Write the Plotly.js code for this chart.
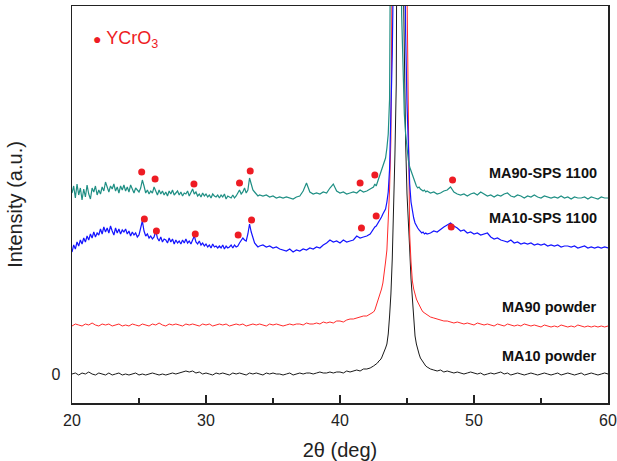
<!DOCTYPE html>
<html>
<head>
<meta charset="utf-8">
<script src="https://cdn.plot.ly/plotly-3.0.1.min.js"></script>
<style>html,body{margin:0;padding:0;background:#fff;}#chart{width:617px;height:461px;}</style>
</head>
<body>
<div id="chart"></div>
<script>
// 2-theta grid for the powder patterns (deg)
var twoTheta = [
20.00,20.25,20.50,20.75,21.00,21.25,21.50,21.75,22.00,22.25,22.50,22.75,23.00,23.25,23.50,23.75,
24.00,24.25,24.50,24.75,25.00,25.25,25.50,25.75,26.00,26.25,26.50,26.75,27.00,27.25,27.50,27.75,
28.00,28.25,28.50,28.75,29.00,29.25,29.50,29.75,30.00,30.25,30.50,30.75,31.00,31.25,31.50,31.75,
32.00,32.25,32.50,32.75,33.00,33.25,33.50,33.75,34.00,34.25,34.50,34.75,35.00,35.25,35.50,35.75,
36.00,36.25,36.50,36.75,37.00,37.25,37.50,37.75,38.00,38.25,38.50,38.75,39.00,39.25,39.50,39.75,
40.00,40.25,40.50,40.75,41.00,41.25,41.50,41.75,42.00,42.25,42.50,
42.6,42.7,42.8,42.9,43.0,43.1,43.2,43.3,43.4,43.5,43.6,43.7,43.8,43.9,44.0,44.1,44.2,44.3,44.4,44.5,
44.6,44.7,44.8,44.9,45.0,45.1,45.2,45.3,45.4,45.5,45.6,45.7,45.8,45.9,46.0,46.1,46.2,46.3,46.4,
46.50,46.75,47.00,47.25,47.50,47.75,48.00,48.25,48.50,48.75,49.00,49.25,49.50,49.75,
50.00,50.25,50.50,50.75,51.00,51.25,51.50,51.75,52.00,52.25,52.50,52.75,53.00,53.25,53.50,53.75,
54.00,54.25,54.50,54.75,55.00,55.25,55.50,55.75,56.00,56.25,56.50,56.75,57.00,57.25,57.50,57.75,
58.00,58.25,58.50,58.75,59.00,59.25,59.50,59.75,60.00
];

// 2-theta grid for the SPS patterns (finer at low angle, where they are noisy)
var twoThetaSps = [
20.000,20.125,20.250,20.375,20.500,20.625,20.750,20.875,21.000,21.125,21.250,21.375,21.500,21.625,21.750,21.875,
22.000,22.125,22.250,22.375,22.500,22.625,22.750,22.875,23.000,23.125,23.250,23.375,23.500,23.625,23.750,23.875,
24.000,24.125,24.250,24.375,24.500,24.625,24.750,24.875,25.000,25.125,25.250,25.375,25.500,25.625,25.750,25.875,
26.000,26.125,26.250,26.375,26.500,26.625,26.750,26.875,27.000,27.125,27.250,27.375,27.500,27.625,27.750,27.875,
28.000,28.125,28.250,28.375,28.500,28.625,28.750,28.875,29.000,29.125,29.250,29.375,29.500,29.625,29.750,29.875,
30.000,30.125,30.250,30.375,30.500,30.625,30.750,30.875,31.000,31.125,31.250,31.375,31.500,31.625,31.750,31.875,
32.000,32.125,32.250,32.375,32.500,32.625,32.750,32.875,33.000,33.125,33.250,33.375,33.500,33.625,33.750,33.875,
34.00,34.25,34.50,34.75,35.00,35.25,35.50,35.75,36.00,36.25,36.50,36.75,37.00,37.25,37.50,37.75,
38.00,38.25,38.50,38.75,39.00,39.25,39.50,39.75,40.00,40.25,40.50,40.75,41.00,41.25,41.50,41.75,
42.00,42.25,42.50,
42.6,42.7,42.8,42.9,43.0,43.1,43.2,43.3,43.4,43.5,43.6,43.7,43.8,43.9,44.0,44.1,44.2,44.3,44.4,44.5,
44.6,44.7,44.8,44.9,45.0,45.1,45.2,45.3,45.4,45.5,45.6,45.7,45.8,45.9,46.0,46.1,46.2,46.3,46.4,
46.50,46.75,47.00,47.25,47.50,47.75,48.00,48.25,48.50,48.75,49.00,49.25,49.50,49.75,
50.00,50.25,50.50,50.75,51.00,51.25,51.50,51.75,52.00,52.25,52.50,52.75,53.00,53.25,53.50,53.75,
54.00,54.25,54.50,54.75,55.00,55.25,55.50,55.75,56.00,56.25,56.50,56.75,57.00,57.25,57.50,57.75,
58.00,58.25,58.50,58.75,59.00,59.25,59.50,59.75,60.00
];

// Intensities (a.u., offset-stacked)
var ma10Powder = [
0,1,-1,1, 0,2,0,-1, 1,0,-1,1, -1,0,1,-1, 0,-1,0,1, -1,0,-1,0, 1,0,-1,0, -1,0,1,0,
1,2,3,2, 3,1,2,0, 1,0,-1,1, 0,1,0,-1, 1,0,1,0, -1,1,0,1, 0,-1,1,0, 1,0,0,-1,
0,1,-1,0, 1,0,1,1, 0,1,2,1, 1,2,1,2, 2,1,3,2, 3,4,3,5, 5,6,8,
9,10,11,13,14,16,19,22,26,30, 40,58,80,115,160,220,290,400,800,1400,
1000,420,300,230,180,145,125,95,74,55, 38,30,24,20,16,14,11,9,8,
7,5, 4,3,4,2, 3,2,1,2, 1,0,1,2, 1,0,1,-1, 0,1,0,1, 2,0,1,-1, 0,1,0,-1,
0,1,0,-1, 0,1,0,-1, 0,1,-1,0, 1,0,-1,0, 1,-1,0,1, 0,-1,0,1, 0
];

var ma90Powder = [
48,50,49,48, 50,49,51,49, 48,50,49,50, 48,49,50,48, 49,48,50,49, 48,50,49,48,
50,49,51,49, 48,50,49,50, 49,48,50,49, 50,49,48,50, 49,50,48,49, 50,49,50,48,
49,50,49,50, 48,49,50,49, 50,49,48,50, 49,50,49,48, 49,50,49,50, 50,49,51,50,
50,51,50,52, 51,52,51,53, 53,52,54,55, 55,56,57,58, 58,60,62,
64,68,72,76,80,85,91,100,112,124, 150,185,235,300,380,500,700,1000,1400,1600,
1400,1000,700,480,385,250,140,112,93,85, 79,75,72,69,66,64,62,61,60,
59,57, 56,55,54,53, 53,52,51,52, 51,50,51,50, 49,51,50,49, 50,49,48,50,
49,48,50,49, 48,49,48,50, 49,48,49,48, 47,49,48,47, 48,47,49,48, 47,48,47,49,
48,47,48,47, 48,47,48,47, 48
];

var ma10Sps = [
122,129,125,132,128,134,130,136, 132,138,134,140,136,142,137,141,
139,145,140,147,142,146,141,148, 143,139,146,141,145,140,144,142,
145,140,143,138,142,139,141,137, 139,145,153,143,138,140,136,138,
135,137,143,136,133,137,132,135, 134,131,136,132,135,130,134,131,
133,130,134,131,135,131,133,130, 134,138,132,130,133,129,131,128,
130,127,129,126,130,127,128,126, 128,126,129,125,128,126,127,129,
126,129,127,128,131,133,136,134, 133,140,150,142,135,131,129,127,
128,129,127,128, 126,127,125,124, 123,125,122,124, 123,125,124,126,
125,127,126,129, 131,134,132,133, 131,134,132,133, 134,138,136,137, 138,140,146,
147,148,150,152,155,157,160,162,165,172, 182,205,250,320,420,650,1000,1400,1500,1300,
900,600,420,340,270,220,190,172,163,156, 151,148,146,144,142,141,142,140,141,
140,141, 143,142,145,147, 149,151,148,146, 143,144,141,142, 140,141,139,140,
141,137,135,136, 134,133,132,134, 131,132,130,131, 130,131,129,130, 129,130,128,129,
128,129,127,128, 128,127,128,126, 127,128,126,127, 126,127,126,127, 126
];

var ma90Sps = [
181,188,176,190,179,186,174,185, 177,189,180,175,186,182,188,179,
184,180,187,183,192,186,182,188, 185,190,183,187,181,188,184,189,
183,187,182,189,185,181,186,184, 182,186,194,188,181,184,180,183,
181,187,183,179,184,180,183,179, 182,178,183,180,184,179,181,183,
179,182,178,181,180,183,178,181, 185,180,182,178,180,177,181,178,
180,177,179,176,180,178,177,179, 176,179,177,180,175,178,177,176,
179,176,178,181,184,180,182,186, 181,184,196,190,184,182,180,178,
179,178,179,177, 178,176,177,176, 177,176,175,177, 178,183,191,182,
180,181,180,182, 181,186,190,183, 181,182,180,181, 182,181,184,182, 183,185,187,
190,188,192,196,201,204,207,211,216,226, 240,275,335,460,800,1200,1500,1200,800,500,
360,300,260,240,225,214,207,203,200,194, 190,188,186,187,185,184,183,184,182,
183,181, 182,180,181,183, 184,187,182,180, 179,180,178,180, 181,179,182,180,
178,179,177,179, 178,180,181,178, 177,179,178,176, 178,177,179,177, 176,178,177,176,
177,176,178,176, 177,175,177,176, 176,177,175,177, 176,175,177,176, 176
];

// YCrO3 reflections marked on the SPS patterns
var ycro3OnMa90X = [25.2, 26.2, 29.1, 32.5, 33.3, 41.5, 42.6, 48.4];
var ycro3OnMa90Y = [202, 195, 190, 191, 203, 191, 199, 194];
var ycro3OnMa10X = [25.4, 26.3, 29.2, 32.4, 33.4, 41.6, 42.7, 48.3];
var ycro3OnMa10Y = [155, 143, 140, 139, 154, 146, 158, 147];

var sampleLabels = ['MA90-SPS 1100', 'MA10-SPS 1100', 'MA90 powder', 'MA10 powder'];
var xTicks = [20, 30, 40, 50, 60];

function line(x, y, color, name, w) {
  return {x: x, y: y, type: 'scatter', mode: 'lines', name: name,
          line: {color: color, width: w}, showlegend: false, hoverinfo: 'skip'};
}
function dots(x, y) {
  return {x: x, y: y, type: 'scatter', mode: 'markers', name: 'YCrO3',
          marker: {color: '#ee1c24', size: 7, symbol: 'circle'}, showlegend: false, cliponaxis: false};
}

var traces = [
  line(twoTheta, ma10Powder, '#1a1a1a', sampleLabels[3], 1),
  line(twoTheta, ma90Powder, '#ff2a2a', sampleLabels[2], 1),
  line(twoThetaSps, ma10Sps, '#1414ff', sampleLabels[1], 1.2),
  line(twoThetaSps, ma90Sps, '#1f8f84', sampleLabels[0], 1.2),
  dots(ycro3OnMa90X, ycro3OnMa90Y),
  dots(ycro3OnMa10X, ycro3OnMa10Y)
];

var labelFont = {family: 'Liberation Sans, Arial, sans-serif', size: 14.5, color: '#111'};
function sampleLabel(i, yp) {
  return {xref: 'paper', yref: 'paper', x: 0.983, y: yp, xanchor: 'right', yanchor: 'middle',
          text: '<b>' + sampleLabels[i] + '</b>', showarrow: false, font: labelFont};
}

var layout = {
  width: 617, height: 461,
  margin: {l: 72, r: 9, t: 6, b: 58},
  paper_bgcolor: '#fff', plot_bgcolor: '#fff',
  font: {family: 'Liberation Sans, Arial, sans-serif', color: '#222'},
  xaxis: {
    range: [20, 60], tickvals: xTicks, ticks: 'inside', ticklen: 8, tickwidth: 1.5, tickcolor: '#222',
    minor: {dtick: 5, tick0: 20, ticks: 'inside', ticklen: 5, tickwidth: 1.5, tickcolor: '#222'},
    showline: true, linecolor: '#222', linewidth: 1.5, mirror: true, showgrid: false, zeroline: false,
    tickfont: {size: 16, color: '#222'}, ticklabelstandoff: 2,
    title: {text: '2θ (deg)', font: {size: 20, color: '#222'}, standoff: 16}
  },
  yaxis: {
    range: [-29, 368], tickvals: [0], ticktext: ['0'], ticks: 'outside', ticklen: 7, tickcolor: 'rgba(0,0,0,0)',
    showline: true, linecolor: '#222', linewidth: 1.5, mirror: true, showgrid: false, zeroline: false,
    tickfont: {size: 16, color: '#222'},
    title: {text: 'Intensity (a.u.)', font: {size: 20, color: '#222'}}
  },
  annotations: [
    {xref: 'paper', yref: 'paper', x: 0.035, y: 0.915, xanchor: 'left', yanchor: 'middle', showarrow: false,
     text: '<span style="font-size:14px">●</span> YCrO<sub>3</sub>',
     font: {family: 'Liberation Sans, Arial, sans-serif', size: 18, color: '#ee1c24'}},
    sampleLabel(0, 0.58),
    sampleLabel(1, 0.465),
    sampleLabel(2, 0.242),
    sampleLabel(3, 0.118)
  ]
};

Plotly.newPlot('chart', traces, layout, {displayModeBar: false, staticPlot: true});
</script>
</body>
</html>
